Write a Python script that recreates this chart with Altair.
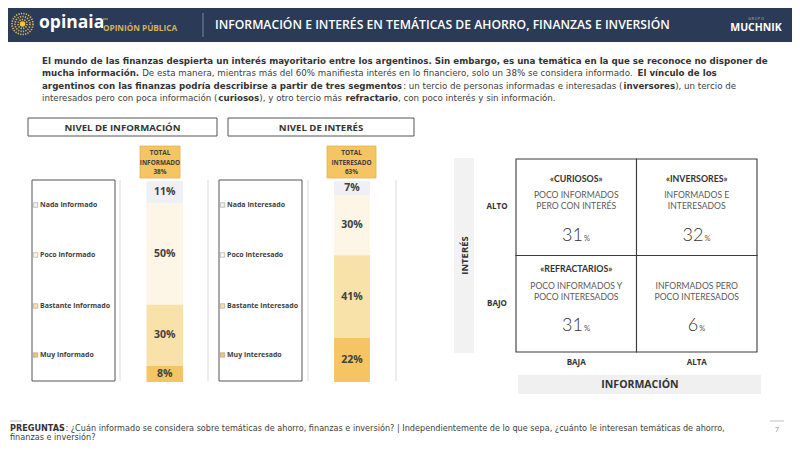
import unicodedata
import altair as alt
import pandas as pd

# ---------------- data ----------------
info_levels = ["Nada informado", "Poco informado", "Bastante informado", "Muy informado"]
info_values = [11, 50, 30, 8]
info_total = 38
int_levels = ["Nada interesado", "Poco interesado", "Bastante interesado", "Muy interesado"]
int_values = [7, 30, 41, 22]
int_total = 63
level_colors = ["#eef0f4", "#fdf5e6", "#f9e2a9", "#f4c562"]

seg_titles = ["«CURIOSOS»", "«INVERSORES»", "«REFRACTARIOS»", ""]
seg_line1 = ["POCO INFORMADOS", "INFORMADOS E", "POCO INFORMADOS Y", "INFORMADOS PERO"]
seg_line2 = ["PERO CON INTERÉS", "INTERESADOS", "POCO INTERESADOS", "POCO INTERESADOS"]
seg_values = [31, 32, 31, 6]
seg_information = ["BAJA", "ALTA", "BAJA", "ALTA"]
seg_interest = ["ALTO", "ALTO", "BAJO", "BAJO"]
information_levels = ["BAJA", "ALTA"]
interest_levels = ["ALTO", "BAJO"]

title_text = "INFORMACIÓN E INTERÉS EN TEMÁTICAS DE AHORRO, FINANZAS E INVERSIÓN"
intro_lines = [
    [("El mundo de las finanzas despierta un interés mayoritario entre los argentinos. Sin embargo, es una temática en la que se reconoce no disponer de", True)],
    [("mucha información.", True),
     (" De esta manera, mientras más del 60% manifiesta interés en lo financiero, solo un 38% se considera informado.", False),
     (" El vínculo de los", True)],
    [("argentinos con las finanzas podría describirse a partir de tres segmentos", True),
     (": un tercio de personas informadas e interesadas (", False),
     ("inversores", True),
     ("), un tercio de", False)],
    [("interesados pero con poca información (", False),
     ("curiosos", True),
     ("), y otro tercio más ", False),
     ("refractario", True),
     (", con poco interés y sin información.", False)],
]
footnote_lines = [
    [("PREGUNTAS", True),
     (": ¿Cuán informado se considera sobre temáticas de ahorro, finanzas e inversión? | Independientemente de lo que sepa, ¿cuánto le interesan temáticas de ahorro,", False)],
    [("finanzas e inversión?", False)],
]

# ---------------- text metrics (DejaVu Sans, units/2048) ----------------
DJR = dict(zip("ABCDEFGHIJKLMNOPQRSTUVWXYZ",
               [1401, 1405, 1430, 1577, 1294, 1178, 1587, 1540, 604, 604, 1343, 1141, 1767,
                1532, 1612, 1235, 1612, 1423, 1300, 1251, 1499, 1401, 2025, 1403, 1251, 1403]))
DJR.update(zip("abcdefghijklmnopqrstuvwxyz",
               [1255, 1300, 1126, 1300, 1260, 721, 1300, 1298, 569, 569, 1186, 569, 1995,
                1298, 1253, 1300, 1300, 842, 1067, 803, 1298, 1212, 1675, 1212, 1212, 1075]))
DJR.update({" ": 651, "%": 1946, "(": 799, ")": 799, ",": 651, ".": 651, ":": 690,
            "?": 1087, "|": 690, "-": 739})
DJR.update({d: 1303 for d in "0123456789"})
DJB = dict(zip("ABCDEFGHIJKLMNOPQRSTUVWXYZ",
               [1577, 1577, 1468, 1696, 1399, 1399, 1669, 1706, 762, 762, 1589, 1307, 2035,
                1706, 1741, 1505, 1741, 1571, 1473, 1397, 1663, 1577, 2255, 1577, 1515, 1452]))
DJB.update(zip("abcdefghijklmnopqrstuvwxyz",
               [1382, 1466, 1214, 1466, 1389, 891, 1466, 1458, 702, 702, 1358, 702, 2134,
                1458, 1407, 1466, 1466, 1010, 1219, 979, 1458, 1335, 1892, 1321, 1335, 1192]))
DJB.update({" ": 713, "%": 2052, "(": 934, ")": 934, ",": 780, ".": 780, ":": 819,
            "?": 1212, "|": 739, "-": 852})
DJB.update({d: 1425 for d in "0123456789"})


def tw(s, bold):
    tab = DJB if bold else DJR
    tot = 0
    for ch in s:
        c = ch
        if c == "¿":
            c = "?"
        if c not in tab:
            c = unicodedata.normalize("NFD", c)[0]
        tot += tab.get(c, 1250)
    return tot / 2048.0


def layout_line(segs, x0, size):
    out = []
    x = x0
    for s, b in segs:
        lead = len(s) - len(s.lstrip())
        xs = x + tw(s[:lead], b) * size
        if s.strip():
            out.append((xs, s.strip(), b))
        x += tw(s, b) * size
    return out


# ---------------- layout helpers ----------------
OX, OY = 8, 8


def X(v):
    return v - OX


def Y(v):
    return v - OY


FONT = "Open Sans"
TXT = "#404040"
ONE = pd.DataFrame({"k": [0]})
layers = []


def add_rect(x1, y1, x2, y2, fill="transparent", stroke=None, sw=1.0):
    kw = dict(fill=fill)
    if stroke:
        kw.update(stroke=stroke, strokeWidth=sw)
    layers.append(alt.Chart(ONE).mark_rect(**kw).encode(
        x=alt.value(X(x1)), x2=alt.value(X(x2)), y=alt.value(Y(y1)), y2=alt.value(Y(y2))))


def add_vline(x, y1, y2, color, sw=1.0):
    layers.append(alt.Chart(ONE).mark_rule(color=color, strokeWidth=sw).encode(
        x=alt.value(X(x)), y=alt.value(Y(y1)), y2=alt.value(Y(y2))))


def add_hline(x1, x2, y, color, sw=1.0):
    layers.append(alt.Chart(ONE).mark_rule(color=color, strokeWidth=sw).encode(
        x=alt.value(X(x1)), x2=alt.value(X(x2)), y=alt.value(Y(y))))


def add_texts(rows, size, color, weight="normal", font=FONT, align="left",
              baseline="middle", angle=None):
    if not rows:
        return
    df = pd.DataFrame([(X(x), Y(y), t) for x, y, t in rows], columns=["x", "y", "t"])
    kw = dict(fontSize=size, color=color, fontWeight=weight, font=font,
              align=align, baseline=baseline)
    if angle is not None:
        kw["angle"] = angle
    layers.append(alt.Chart(df).mark_text(**kw).encode(
        x=alt.X("x:Q", scale=None, axis=None),
        y=alt.Y("y:Q", scale=None, axis=None),
        text="t:N"))


# ---------------- header ----------------
add_rect(0, 5, 800, 42, fill="#2b3a56")
for d, sw in [(21, 1.7), (15, 1.7), (9, 1.7)]:
    layers.append(alt.Chart(ONE).mark_point(
        shape="circle", filled=False, stroke="#d4b25f", strokeWidth=sw,
        strokeDash=[1.3, 1.2], size=d * d, opacity=1).encode(
        x=alt.value(X(22.5)), y=alt.value(Y(24))))
layers.append(alt.Chart(ONE).mark_point(
    shape="circle", filled=True, color="#f6c443", size=30, opacity=1).encode(
    x=alt.value(X(22.5)), y=alt.value(Y(24))))
add_texts([(39, 23, "opinaia")], 17.5, "white", weight="bold")
add_hline(103, 108, 19, "#d4b25f", 1)
add_texts([(103, 29, "OPINIÓN PÚBLICA")], 8.2, "#d4b25f", weight="bold")
add_vline(203, 13, 37, "#7d879b", 1)
add_texts([(215, 24.5, title_text)], 12.2, "white", weight=600)
add_texts([(756, 18.5, "G R U P O")], 3.5, "#b9bfca", align="center")
add_texts([(756, 27.5, "MUCHNIK")], 10.5, "white", weight="bold", align="center")

# ---------------- intro paragraph ----------------
P_SIZE = 728.0 / tw(intro_lines[0][0][0], True)
line_y = [60.5, 73, 85.5, 98]
reg_rows, bold_rows = [], []
for segs, yy in zip(intro_lines, line_y):
    for xs, t, b in layout_line(segs, 42, P_SIZE):
        (bold_rows if b else reg_rows).append((xs, yy, t))
add_texts(reg_rows, P_SIZE, TXT, font="DejaVu Sans")
add_texts(bold_rows, P_SIZE, "#333333", weight="bold", font="DejaVu Sans")

# ---------------- stacked bar panels ----------------
LEG_Y = [205, 255, 306, 355]
BAR_TOP, BAR_BOT = 181, 382


def panel(levels, values, total, word, header, g):
    # header box
    add_rect(g["head"][0], 118, g["head"][1], 136, stroke="#555555", sw=1)
    add_texts([((g["head"][0] + g["head"][1]) / 2, 127.5, header)], 9.6, "#333333",
              weight="bold", align="center")
    # legend box
    add_rect(g["leg"][0], 180, g["leg"][1], 381, stroke="#555555", sw=1)
    ldf = pd.DataFrame({"level": levels, "ly": [Y(v) for v in LEG_Y]})
    cscale = alt.Scale(domain=levels, range=level_colors)
    layers.append(alt.Chart(ldf).mark_square(size=20, stroke="#a0a0a0", strokeWidth=0.6,
                                             opacity=1).encode(
        x=alt.value(X(g["leg"][0] + 3.5)),
        y=alt.Y("ly:Q", scale=None, axis=None),
        color=alt.Color("level:N", scale=cscale, legend=None)))
    add_texts([(g["leg"][0] + 8, yy, lv) for lv, yy in zip(levels, LEG_Y)], 7, TXT,
              weight="bold")
    # separators
    for xx in g["rules"]:
        add_vline(xx, 180, 381, "#d9d9d9", 1)
    # total box
    tx0, tx1 = g["tot"]
    add_rect(tx0, 146, tx1, 178, fill="#f4c562", stroke="#e3b24e", sw=0.8)
    tc = (tx0 + tx1) / 2
    add_texts([(tc, 153, "TOTAL"), (tc, 162.5, word), (tc, 172, f"{total}%")], 6.4, TXT,
              weight="bold", align="center")
    # bars
    df = pd.DataFrame({"level": levels, "value": values, "rank": [3, 2, 1, 0]})
    yscale = alt.Scale(domain=[0, sum(values)], range=[Y(BAR_BOT), Y(BAR_TOP)], nice=False,
                       zero=True)
    base = alt.Chart(df).transform_stack(
        stack="value", as_=["v0", "v1"], groupby=[],
        sort=[alt.SortField("rank", order="ascending")])
    layers.append(base.mark_rect().encode(
        x=alt.value(X(g["bar"][0])), x2=alt.value(X(g["bar"][1])),
        y=alt.Y("v0:Q", scale=yscale, axis=None), y2="v1:Q",
        color=alt.Color("level:N", scale=alt.Scale(domain=levels, range=level_colors),
                        legend=None)))
    layers.append(base.transform_calculate(
        mid="(datum.v0 + datum.v1) / 2", label="datum.value + '%'").mark_text(
        fontSize=10.5, fontWeight="bold", color=TXT, font=FONT, baseline="middle").encode(
        x=alt.value(X((g["bar"][0] + g["bar"][1]) / 2)),
        y=alt.Y("mid:Q", scale=alt.Scale(domain=[0, sum(values)],
                                         range=[Y(BAR_BOT), Y(BAR_TOP)], nice=False,
                                         zero=True), axis=None),
        text="label:N"))


panel(info_levels, info_values, info_total, "INFORMADO", "NIVEL DE INFORMACIÓN",
      dict(head=(28, 217), leg=(32, 115), rules=(120, 208), bar=(146.5, 183), tot=(140, 180)))
panel(int_levels, int_values, int_total, "INTERESADO", "NIVEL DE INTERÉS",
      dict(head=(228, 414), leg=(219, 302), rules=(308, 396), bar=(334, 370), tot=(327, 376)))

# ---------------- segment matrix ----------------
M_X0, M_X1 = 516, 757
M_Y0, M_Y1 = 159, 352


def xband():
    return alt.Scale(type="band", domain=information_levels, range=[X(M_X0), X(M_X1)],
                     paddingInner=0, paddingOuter=0)


def yband():
    return alt.Scale(type="band", domain=interest_levels, range=[Y(M_Y0), Y(M_Y1)],
                     paddingInner=0, paddingOuter=0)


add_rect(454, 158, 474, 353, fill="#f2f2f2")
add_texts([(464.5, 255.5, "INTERÉS")], 9.5, "#333333", weight="bold", align="center",
          angle=270)
add_rect(518, 375, 761, 394, fill="#f0f0f0")
add_texts([(640, 384.5, "INFORMACIÓN")], 10.5, "#333333", weight="bold", align="center")

mdf = pd.DataFrame({"information": seg_information, "interest": seg_interest,
                    "value": seg_values})
layers.append(alt.Chart(mdf).mark_rect(fill="white", stroke="#3a3a3a", strokeWidth=1.1).encode(
    x=alt.X("information:N", scale=xband(), axis=None),
    y=alt.Y("interest:N", scale=yband(), axis=None)))

layers.append(alt.Chart(pd.DataFrame({"interest": interest_levels})).mark_text(
    fontSize=8, fontWeight="bold", color="#333333", font=FONT).encode(
    x=alt.value(X(497)),
    y=alt.Y("interest:N", scale=yband(), axis=None, bandPosition=0.5),
    text="interest:N"))
layers.append(alt.Chart(pd.DataFrame({"information": information_levels})).mark_text(
    fontSize=8, fontWeight="bold", color="#333333", font=FONT).encode(
    x=alt.X("information:N", scale=xband(), axis=None, bandPosition=0.5),
    y=alt.value(Y(363)),
    text="information:N"))

CELL_DY = {"ALTO": dict(title=-28, l1=-12, l2=-1, val=34),
           "BAJO": dict(title=-35, l1=-18, l2=-7, val=27)}
for i in range(len(seg_values)):
    off = CELL_DY[seg_interest[i]]
    cdf = pd.DataFrame({"information": [seg_information[i]], "interest": [seg_interest[i]],
                        "title": [seg_titles[i]], "l1": [seg_line1[i]], "l2": [seg_line2[i]],
                        "num": [str(seg_values[i])]})
    base = alt.Chart(cdf)

    def enc(**extra):
        d = dict(x=alt.X("information:N", scale=xband(), axis=None, bandPosition=0.5),
                 y=alt.Y("interest:N", scale=yband(), axis=None, bandPosition=0.5))
        d.update(extra)
        return d

    if seg_titles[i]:
        layers.append(base.mark_text(dy=off["title"], fontSize=8.8, fontWeight="bold",
                                     color="#333333", font="Lato").encode(**enc(text="title:N")))
    layers.append(base.mark_text(dy=off["l1"], fontSize=8.6, color="#5a5a5a",
                                 font="Lato").encode(**enc(text="l1:N")))
    layers.append(base.mark_text(dy=off["l2"], fontSize=8.6, color="#5a5a5a",
                                 font="Lato").encode(**enc(text="l2:N")))
    w_num = 0.58 * 18 * len(str(seg_values[i]))
    tot_w = w_num + 7.5
    layers.append(base.mark_text(dy=off["val"], dx=-tot_w / 2 + w_num, align="right",
                                 baseline="alphabetic", fontSize=18, fontWeight=300,
                                 color="#333333", font="Lato").encode(**enc(text="num:N")))
    layers.append(base.mark_text(dy=off["val"], dx=-tot_w / 2 + w_num + 1, align="left",
                                 baseline="alphabetic", fontSize=7.5, color="#555555",
                                 font="Lato", text="%").encode(**enc()))

# ---------------- footnote ----------------
F_SIZE = 717.0 / (tw(footnote_lines[0][0][0], True) + tw(footnote_lines[0][1][0], False))
f_reg, f_bold = [], []
for segs, yy in zip(footnote_lines, [429, 437.5]):
    for xs, t, b in layout_line(segs, 10, F_SIZE):
        (f_bold if b else f_reg).append((xs, yy, t))
add_texts(f_reg, F_SIZE, TXT, font="DejaVu Sans")
add_texts(f_bold, F_SIZE, "#333333", weight="bold", font="DejaVu Sans")
add_hline(10, 22, 421, "#bfbfbf", 1)
add_hline(770, 784, 421, "#bfbfbf", 1)
add_texts([(777, 430, "7")], 7, "#8c8c8c", align="center")

chart = alt.layer(*layers).resolve_scale(
    x="independent", y="independent", color="independent"
).properties(
    width=784, height=434,
    autosize=alt.AutoSizeParams(type="none"),
    padding=0, background="white",
).configure_view(stroke=None)

chart.save("out.html", embed_options={"renderer": "svg", "actions": False})
